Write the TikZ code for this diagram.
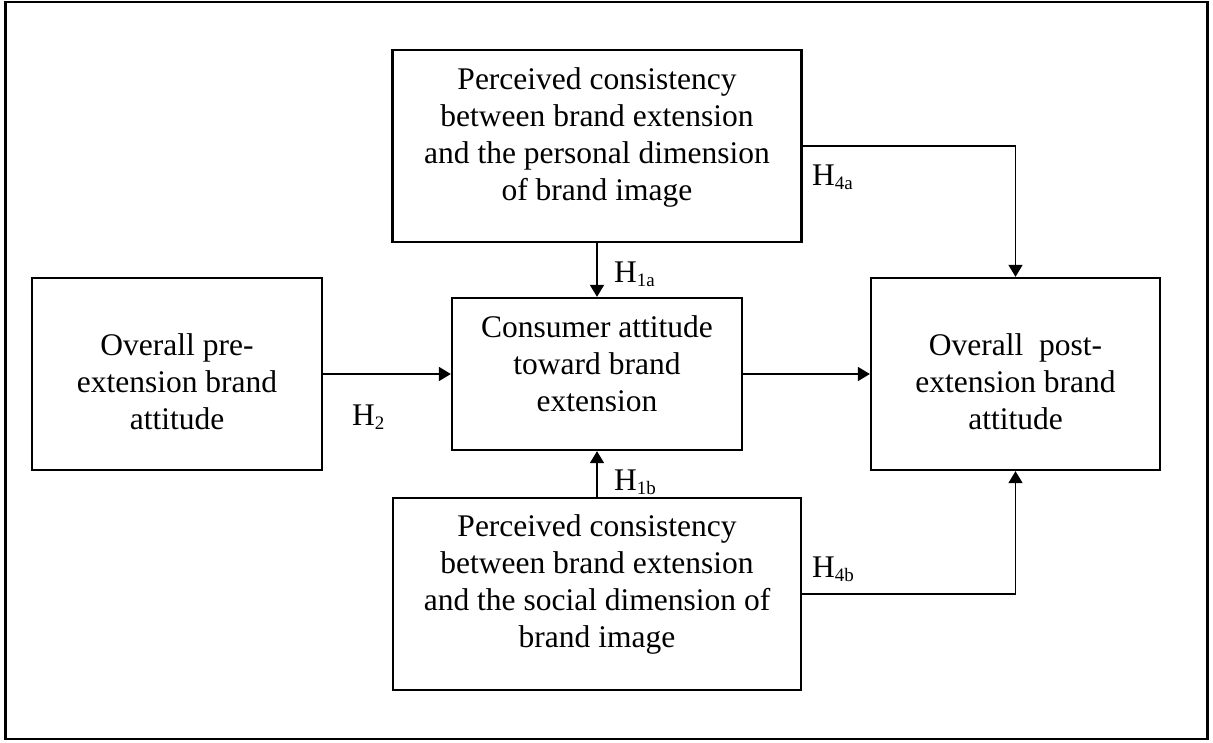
\documentclass[tikz,border=0pt]{standalone}
\usepackage{fontspec}
\setmainfont{Liberation Serif}
\usetikzlibrary{arrows.meta}
\newcommand{\Hsub}[1]{H\raisebox{-4pt}{\fontsize{19}{19}\selectfont #1}}
\tikzset{
  box/.style={draw, line width=2.3pt, rectangle, inner sep=0pt},
  txt/.style={align=center, inner sep=0pt, anchor=base, font=\fontsize{31.5}{36.7}\selectfont},
  hlab/.style={inner sep=0pt, anchor=base west, font=\fontsize{31.5}{36.7}\selectfont},
  arr/.style={line width=1.6pt, -{Triangle[length=12pt,width=14pt]}}
}
\begin{document}
\begin{tikzpicture}[x=1pt,y=-1pt]
\useasboundingbox (0,0) rectangle (1213,742);
\draw[line width=2.3pt] (5.5,2) rectangle (1207.5,739);
% boxes
\node[box, minimum width=409pt, minimum height=192pt] (top) at (597,146) {};
\node[box, minimum width=290pt, minimum height=192pt] (left) at (177,374) {};
\node[box, minimum width=290pt, minimum height=152pt] (cen) at (597,374) {};
\node[box, minimum width=289pt, minimum height=192pt] (right) at (1015.5,374) {};
\node[box, minimum width=408pt, minimum height=192pt] (bot) at (597,594) {};
% texts (anchor base = baseline of the last line)
\node[txt] (ttop) at (597,200) {Perceived consistency\\between brand extension\\and the personal dimension\\of brand image};
\node[txt] (tleft) at (177,429) {Overall pre-\\extension brand\\attitude};
\node[txt] (tcen) at (597,411) {Consumer attitude\\toward brand\\extension};
\node[txt] (tright) at (1015.5,429) {Overall\ \ post-\\extension brand\\attitude};
\node[txt] (tbot) at (597,647) {Perceived consistency\\between brand extension\\and the social dimension of\\brand image};
% connectors
\draw[arr] (top.south) -- (cen.north);
\draw[arr] (bot.north) -- (cen.south);
\draw[arr] (left.east) -- (cen.west);
\draw[arr] (cen.east) -- (right.west);
\draw[arr] (top.east) -| (right.north);
\draw[arr] (bot.east) -| (right.south);
% labels
\node[hlab] (h1a) at (614,282) {\Hsub{1a}};
\node[hlab] (h1b) at (614,490) {\Hsub{1b}};
\node[hlab] (h2) at (352,425) {\Hsub{2}};
\node[hlab] (h4a) at (812,185) {\Hsub{4a}};
\node[hlab] (h4b) at (812,577) {\Hsub{4b}};
\end{tikzpicture}
\end{document}
